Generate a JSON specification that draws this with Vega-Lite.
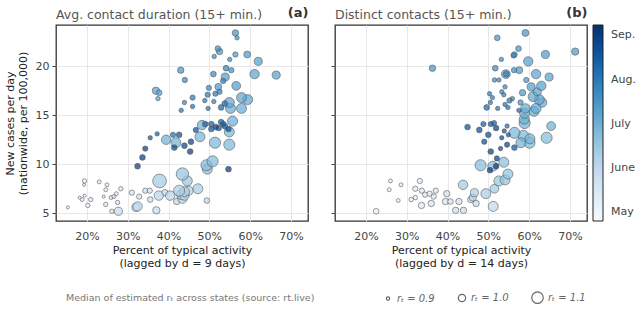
{
  "$schema": "https://vega.github.io/schema/vega-lite/v6.json",
  "padding": {"left": 3, "top": 5, "right": 0, "bottom": 0},
  "background": "white",
  "datasets": {
    "pts": [
      {"panel":"a","act":56.4,"cases":23.4,"rt":0.97,"doy":198},
      {"panel":"a","act":56.8,"cases":22.9,"rt":0.92,"doy":199},
      {"panel":"a","act":52.1,"cases":21.8,"rt":0.95,"doy":200},
      {"panel":"a","act":52.5,"cases":21.5,"rt":0.97,"doy":197},
      {"panel":"a","act":51.2,"cases":21.0,"rt":0.92,"doy":202},
      {"panel":"a","act":55.0,"cases":20.7,"rt":0.92,"doy":203},
      {"panel":"a","act":56.4,"cases":21.2,"rt":0.94,"doy":196},
      {"panel":"a","act":59.3,"cases":21.2,"rt":0.985,"doy":195},
      {"panel":"a","act":62.0,"cases":20.5,"rt":1.015,"doy":193},
      {"panel":"a","act":43.0,"cases":19.6,"rt":0.97,"doy":199},
      {"panel":"a","act":44.0,"cases":18.6,"rt":0.94,"doy":204},
      {"panel":"a","act":51.0,"cases":19.2,"rt":0.95,"doy":205},
      {"panel":"a","act":54.1,"cases":19.8,"rt":0.95,"doy":209},
      {"panel":"a","act":55.4,"cases":19.6,"rt":0.94,"doy":201},
      {"panel":"a","act":53.9,"cases":18.9,"rt":1.015,"doy":194},
      {"panel":"a","act":53.4,"cases":18.5,"rt":0.94,"doy":210},
      {"panel":"a","act":61.1,"cases":19.2,"rt":1.045,"doy":190},
      {"panel":"a","act":66.4,"cases":19.1,"rt":1.015,"doy":192},
      {"panel":"a","act":56.6,"cases":18.0,"rt":1.03,"doy":193},
      {"panel":"a","act":49.9,"cases":17.8,"rt":0.94,"doy":206},
      {"panel":"a","act":52.2,"cases":17.9,"rt":0.985,"doy":196},
      {"panel":"a","act":52.5,"cases":17.4,"rt":0.94,"doy":211},
      {"panel":"a","act":51.5,"cases":17.2,"rt":0.94,"doy":212},
      {"panel":"a","act":49.6,"cases":17.1,"rt":0.94,"doy":213},
      {"panel":"a","act":45.9,"cases":16.8,"rt":0.94,"doy":214},
      {"panel":"a","act":43.9,"cases":16.3,"rt":0.92,"doy":207},
      {"panel":"a","act":48.9,"cases":16.5,"rt":0.92,"doy":215},
      {"panel":"a","act":51.1,"cases":16.4,"rt":0.92,"doy":208},
      {"panel":"a","act":57.9,"cases":16.8,"rt":1.06,"doy":189},
      {"panel":"a","act":59.4,"cases":16.6,"rt":1.06,"doy":188},
      {"panel":"a","act":54.9,"cases":16.3,"rt":1.06,"doy":187},
      {"panel":"a","act":53.8,"cases":16.2,"rt":0.95,"doy":219},
      {"panel":"a","act":52.9,"cases":15.8,"rt":0.95,"doy":222},
      {"panel":"a","act":45.9,"cases":15.9,"rt":0.92,"doy":216},
      {"panel":"a","act":43.1,"cases":15.5,"rt":0.92,"doy":217},
      {"panel":"a","act":49.7,"cases":15.7,"rt":0.92,"doy":218},
      {"panel":"a","act":55.2,"cases":15.7,"rt":1.06,"doy":186},
      {"panel":"a","act":57.9,"cases":15.7,"rt":1.06,"doy":185},
      {"panel":"a","act":55.7,"cases":14.4,"rt":1.06,"doy":184},
      {"panel":"a","act":36.9,"cases":17.5,"rt":1.0,"doy":191},
      {"panel":"a","act":37.7,"cases":17.3,"rt":0.95,"doy":192},
      {"panel":"a","act":37.4,"cases":16.7,"rt":0.92,"doy":193},
      {"panel":"a","act":32.4,"cases":9.8,"rt":0.95,"doy":245},
      {"panel":"a","act":33.6,"cases":10.7,"rt":0.95,"doy":244},
      {"panel":"a","act":34.3,"cases":11.6,"rt":0.94,"doy":243},
      {"panel":"a","act":35.5,"cases":12.7,"rt":0.92,"doy":230},
      {"panel":"a","act":37.2,"cases":13.1,"rt":0.92,"doy":224},
      {"panel":"a","act":39.4,"cases":12.5,"rt":1.045,"doy":182},
      {"panel":"a","act":41.1,"cases":13.0,"rt":0.94,"doy":220},
      {"panel":"a","act":42.6,"cases":13.0,"rt":0.95,"doy":236},
      {"panel":"a","act":41.8,"cases":12.2,"rt":1.06,"doy":181},
      {"panel":"a","act":41.4,"cases":11.7,"rt":0.95,"doy":239},
      {"panel":"a","act":43.9,"cases":11.9,"rt":0.95,"doy":240},
      {"panel":"a","act":45.5,"cases":12.3,"rt":0.95,"doy":241},
      {"panel":"a","act":45.3,"cases":11.3,"rt":0.95,"doy":246},
      {"panel":"a","act":46.7,"cases":13.5,"rt":0.94,"doy":235},
      {"panel":"a","act":47.7,"cases":12.8,"rt":1.06,"doy":180},
      {"panel":"a","act":48.2,"cases":14.0,"rt":1.045,"doy":183},
      {"panel":"a","act":49.0,"cases":14.1,"rt":0.95,"doy":225},
      {"panel":"a","act":50.5,"cases":13.6,"rt":0.95,"doy":232},
      {"panel":"a","act":50.5,"cases":14.1,"rt":0.95,"doy":226},
      {"panel":"a","act":51.6,"cases":13.8,"rt":0.95,"doy":242},
      {"panel":"a","act":52.3,"cases":13.7,"rt":0.95,"doy":231},
      {"panel":"a","act":53.4,"cases":14.1,"rt":0.95,"doy":227},
      {"panel":"a","act":54.7,"cases":13.6,"rt":0.95,"doy":234},
      {"panel":"a","act":52.9,"cases":14.3,"rt":0.95,"doy":228},
      {"panel":"a","act":53.8,"cases":13.9,"rt":0.95,"doy":229},
      {"panel":"a","act":54.9,"cases":13.3,"rt":1.06,"doy":179},
      {"panel":"a","act":51.4,"cases":12.2,"rt":1.09,"doy":178},
      {"panel":"a","act":54.9,"cases":12.0,"rt":1.09,"doy":177},
      {"panel":"a","act":50.8,"cases":10.3,"rt":1.09,"doy":176},
      {"panel":"a","act":49.3,"cases":9.9,"rt":1.09,"doy":175},
      {"panel":"a","act":49.5,"cases":9.5,"rt":1.06,"doy":174},
      {"panel":"a","act":54.7,"cases":9.5,"rt":0.95,"doy":247},
      {"panel":"a","act":15.3,"cases":5.6,"rt":0.89,"doy":125},
      {"panel":"a","act":19.4,"cases":8.3,"rt":0.92,"doy":128},
      {"panel":"a","act":19.3,"cases":7.9,"rt":0.89,"doy":127},
      {"panel":"a","act":23.0,"cases":8.2,"rt":0.91,"doy":130},
      {"panel":"a","act":24.9,"cases":7.9,"rt":0.91,"doy":131},
      {"panel":"a","act":24.6,"cases":7.4,"rt":0.91,"doy":132},
      {"panel":"a","act":28.3,"cases":7.5,"rt":0.92,"doy":135},
      {"panel":"a","act":27.2,"cases":7.0,"rt":0.91,"doy":134},
      {"panel":"a","act":18.2,"cases":6.6,"rt":0.89,"doy":126},
      {"panel":"a","act":19.4,"cases":6.8,"rt":0.89,"doy":129},
      {"panel":"a","act":18.8,"cases":6.4,"rt":0.91,"doy":124},
      {"panel":"a","act":20.9,"cases":6.4,"rt":0.92,"doy":133},
      {"panel":"a","act":20.2,"cases":5.8,"rt":0.92,"doy":123},
      {"panel":"a","act":24.1,"cases":6.7,"rt":0.89,"doy":136},
      {"panel":"a","act":24.6,"cases":5.9,"rt":0.92,"doy":137},
      {"panel":"a","act":25.9,"cases":6.6,"rt":0.91,"doy":138},
      {"panel":"a","act":26.6,"cases":6.7,"rt":0.91,"doy":139},
      {"panel":"a","act":27.5,"cases":6.1,"rt":0.92,"doy":140},
      {"panel":"a","act":26.1,"cases":5.2,"rt":0.92,"doy":141},
      {"panel":"a","act":27.7,"cases":5.2,"rt":1.015,"doy":148},
      {"panel":"a","act":31.0,"cases":7.1,"rt":0.94,"doy":142},
      {"panel":"a","act":32.8,"cases":6.7,"rt":0.94,"doy":143},
      {"panel":"a","act":34.3,"cases":7.3,"rt":0.94,"doy":144},
      {"panel":"a","act":35.4,"cases":7.3,"rt":0.94,"doy":145},
      {"panel":"a","act":32.4,"cases":5.7,"rt":1.045,"doy":152},
      {"panel":"a","act":32.0,"cases":5.6,"rt":1.015,"doy":150},
      {"panel":"a","act":35.5,"cases":6.4,"rt":0.95,"doy":146},
      {"panel":"a","act":37.0,"cases":5.3,"rt":1.0,"doy":149},
      {"panel":"a","act":37.8,"cases":8.3,"rt":1.15,"doy":165},
      {"panel":"a","act":37.6,"cases":6.8,"rt":1.045,"doy":156},
      {"panel":"a","act":39.1,"cases":7.1,"rt":0.97,"doy":147},
      {"panel":"a","act":40.4,"cases":6.8,"rt":1.045,"doy":155},
      {"panel":"a","act":42.0,"cases":6.2,"rt":0.97,"doy":151},
      {"panel":"a","act":43.4,"cases":9.0,"rt":1.12,"doy":170},
      {"panel":"a","act":44.6,"cases":8.3,"rt":1.06,"doy":168},
      {"panel":"a","act":43.2,"cases":6.9,"rt":1.06,"doy":157},
      {"panel":"a","act":42.6,"cases":7.3,"rt":1.09,"doy":162},
      {"panel":"a","act":43.9,"cases":7.2,"rt":1.06,"doy":160},
      {"panel":"a","act":43.4,"cases":6.5,"rt":1.045,"doy":154},
      {"panel":"a","act":47.2,"cases":7.5,"rt":1.06,"doy":163},
      {"panel":"a","act":49.4,"cases":6.3,"rt":0.95,"doy":153},
      {"panel":"a","act":44.9,"cases":7.3,"rt":1.045,"doy":159},
      {"panel":"a","act":43.9,"cases":6.8,"rt":1.045,"doy":158},
      {"panel":"b","act":59.1,"cases":23.4,"rt":0.985,"doy":198},
      {"panel":"b","act":52.2,"cases":22.9,"rt":0.95,"doy":199},
      {"panel":"b","act":57.4,"cases":21.8,"rt":0.95,"doy":200},
      {"panel":"b","act":56.4,"cases":21.2,"rt":0.95,"doy":197},
      {"panel":"b","act":56.2,"cases":21.1,"rt":0.94,"doy":209},
      {"panel":"b","act":53.2,"cases":20.7,"rt":0.92,"doy":202},
      {"panel":"b","act":59.8,"cases":20.5,"rt":1.045,"doy":193},
      {"panel":"b","act":64.0,"cases":21.2,"rt":1.015,"doy":195},
      {"panel":"b","act":71.3,"cases":21.5,"rt":1.0,"doy":196},
      {"panel":"b","act":36.3,"cases":19.8,"rt":0.97,"doy":199},
      {"panel":"b","act":51.7,"cases":19.8,"rt":0.95,"doy":203},
      {"panel":"b","act":54.3,"cases":19.2,"rt":1.03,"doy":194},
      {"panel":"b","act":54.4,"cases":19.2,"rt":0.95,"doy":210},
      {"panel":"b","act":56.3,"cases":19.6,"rt":0.94,"doy":201},
      {"panel":"b","act":57.6,"cases":19.6,"rt":0.985,"doy":196},
      {"panel":"b","act":61.7,"cases":19.2,"rt":1.045,"doy":190},
      {"panel":"b","act":64.9,"cases":18.9,"rt":1.015,"doy":192},
      {"panel":"b","act":51.5,"cases":18.6,"rt":0.92,"doy":204},
      {"panel":"b","act":52.6,"cases":18.6,"rt":0.92,"doy":205},
      {"panel":"b","act":59.3,"cases":18.6,"rt":0.94,"doy":198},
      {"panel":"b","act":54.1,"cases":17.9,"rt":0.92,"doy":206},
      {"panel":"b","act":60.5,"cases":17.9,"rt":1.015,"doy":193},
      {"panel":"b","act":63.0,"cases":18.0,"rt":1.045,"doy":191},
      {"panel":"b","act":53.3,"cases":17.4,"rt":0.92,"doy":207},
      {"panel":"b","act":53.8,"cases":17.1,"rt":0.92,"doy":211},
      {"panel":"b","act":58.4,"cases":17.3,"rt":0.97,"doy":195},
      {"panel":"b","act":62.0,"cases":17.4,"rt":1.015,"doy":189},
      {"panel":"b","act":61.0,"cases":16.9,"rt":1.06,"doy":188},
      {"panel":"b","act":62.5,"cases":16.6,"rt":1.06,"doy":187},
      {"panel":"b","act":50.3,"cases":17.2,"rt":0.92,"doy":212},
      {"panel":"b","act":51.0,"cases":16.8,"rt":0.92,"doy":213},
      {"panel":"b","act":55.9,"cases":16.7,"rt":0.92,"doy":208},
      {"panel":"b","act":55.2,"cases":16.5,"rt":0.94,"doy":214},
      {"panel":"b","act":50.5,"cases":16.3,"rt":0.92,"doy":215},
      {"panel":"b","act":57.9,"cases":16.3,"rt":0.94,"doy":200},
      {"panel":"b","act":54.1,"cases":16.1,"rt":0.92,"doy":216},
      {"panel":"b","act":49.6,"cases":15.8,"rt":0.95,"doy":223},
      {"panel":"b","act":52.3,"cases":15.7,"rt":0.92,"doy":217},
      {"panel":"b","act":54.8,"cases":15.8,"rt":0.92,"doy":218},
      {"panel":"b","act":59.1,"cases":15.7,"rt":1.045,"doy":186},
      {"panel":"b","act":61.7,"cases":15.7,"rt":1.06,"doy":185},
      {"panel":"b","act":63.2,"cases":16.3,"rt":1.045,"doy":186},
      {"panel":"b","act":57.5,"cases":15.5,"rt":0.92,"doy":219},
      {"panel":"b","act":58.8,"cases":14.6,"rt":1.06,"doy":184},
      {"panel":"b","act":44.9,"cases":13.8,"rt":0.95,"doy":235},
      {"panel":"b","act":47.8,"cases":13.5,"rt":0.95,"doy":236},
      {"panel":"b","act":48.8,"cases":14.1,"rt":0.94,"doy":229},
      {"panel":"b","act":50.6,"cases":14.1,"rt":0.94,"doy":230},
      {"panel":"b","act":51.4,"cases":14.2,"rt":0.94,"doy":228},
      {"panel":"b","act":51.9,"cases":13.7,"rt":0.95,"doy":242},
      {"panel":"b","act":50.0,"cases":13.0,"rt":0.95,"doy":237},
      {"panel":"b","act":49.0,"cases":12.3,"rt":0.94,"doy":239},
      {"panel":"b","act":53.9,"cases":13.4,"rt":0.92,"doy":233},
      {"panel":"b","act":54.6,"cases":13.9,"rt":0.92,"doy":220},
      {"panel":"b","act":54.9,"cases":13.0,"rt":0.92,"doy":234},
      {"panel":"b","act":53.3,"cases":12.7,"rt":0.92,"doy":238},
      {"panel":"b","act":54.6,"cases":12.0,"rt":0.94,"doy":240},
      {"panel":"b","act":53.0,"cases":11.6,"rt":0.92,"doy":241},
      {"panel":"b","act":50.6,"cases":11.3,"rt":0.95,"doy":243},
      {"panel":"b","act":56.4,"cases":11.7,"rt":0.95,"doy":232},
      {"panel":"b","act":52.1,"cases":10.6,"rt":0.94,"doy":244},
      {"panel":"b","act":51.9,"cases":9.8,"rt":0.95,"doy":246},
      {"panel":"b","act":50.4,"cases":9.4,"rt":0.95,"doy":245},
      {"panel":"b","act":56.4,"cases":13.2,"rt":1.09,"doy":179},
      {"panel":"b","act":58.9,"cases":14.2,"rt":1.09,"doy":183},
      {"panel":"b","act":58.6,"cases":12.9,"rt":1.09,"doy":178},
      {"panel":"b","act":60.1,"cases":12.2,"rt":1.09,"doy":177},
      {"panel":"b","act":60.2,"cases":12.6,"rt":1.06,"doy":180},
      {"panel":"b","act":58.0,"cases":12.2,"rt":1.06,"doy":181},
      {"panel":"b","act":65.4,"cases":13.9,"rt":1.03,"doy":182},
      {"panel":"b","act":64.3,"cases":12.7,"rt":1.09,"doy":176},
      {"panel":"b","act":58.9,"cases":15.2,"rt":1.06,"doy":185},
      {"panel":"b","act":61.2,"cases":15.4,"rt":1.06,"doy":184},
      {"panel":"b","act":48.1,"cases":9.9,"rt":1.09,"doy":175},
      {"panel":"b","act":51.1,"cases":9.8,"rt":1.06,"doy":174},
      {"panel":"b","act":53.8,"cases":10.2,"rt":1.06,"doy":173},
      {"panel":"b","act":54.8,"cases":9.0,"rt":1.06,"doy":171},
      {"panel":"b","act":52.6,"cases":8.3,"rt":1.06,"doy":169},
      {"panel":"b","act":54.1,"cases":8.4,"rt":1.06,"doy":170},
      {"panel":"b","act":51.5,"cases":7.5,"rt":1.03,"doy":166},
      {"panel":"b","act":49.4,"cases":7.0,"rt":1.06,"doy":163},
      {"panel":"b","act":43.8,"cases":7.9,"rt":1.045,"doy":165},
      {"panel":"b","act":22.5,"cases":5.2,"rt":0.95,"doy":125},
      {"panel":"b","act":26.0,"cases":8.3,"rt":0.91,"doy":128},
      {"panel":"b","act":25.7,"cases":7.4,"rt":0.91,"doy":127},
      {"panel":"b","act":28.6,"cases":7.9,"rt":0.91,"doy":130},
      {"panel":"b","act":27.9,"cases":6.3,"rt":0.91,"doy":124},
      {"panel":"b","act":33.2,"cases":8.3,"rt":0.94,"doy":131},
      {"panel":"b","act":32.1,"cases":7.5,"rt":0.94,"doy":132},
      {"panel":"b","act":33.7,"cases":7.3,"rt":0.94,"doy":134},
      {"panel":"b","act":31.1,"cases":6.4,"rt":0.92,"doy":126},
      {"panel":"b","act":32.1,"cases":6.6,"rt":0.92,"doy":129},
      {"panel":"b","act":34.5,"cases":6.9,"rt":0.94,"doy":135},
      {"panel":"b","act":35.6,"cases":7.0,"rt":0.94,"doy":136},
      {"panel":"b","act":36.6,"cases":6.7,"rt":0.94,"doy":137},
      {"panel":"b","act":37.1,"cases":7.3,"rt":0.94,"doy":138},
      {"panel":"b","act":33.6,"cases":5.8,"rt":0.97,"doy":133},
      {"panel":"b","act":36.0,"cases":6.0,"rt":0.97,"doy":139},
      {"panel":"b","act":39.8,"cases":7.0,"rt":0.97,"doy":142},
      {"panel":"b","act":39.5,"cases":6.2,"rt":0.97,"doy":140},
      {"panel":"b","act":40.7,"cases":6.2,"rt":0.95,"doy":141},
      {"panel":"b","act":42.8,"cases":6.2,"rt":0.97,"doy":144},
      {"panel":"b","act":42.0,"cases":5.3,"rt":0.97,"doy":146},
      {"panel":"b","act":43.9,"cases":5.3,"rt":0.97,"doy":147},
      {"panel":"b","act":45.7,"cases":6.4,"rt":0.97,"doy":145},
      {"panel":"b","act":46.6,"cases":7.1,"rt":1.015,"doy":160},
      {"panel":"b","act":47.0,"cases":6.0,"rt":0.97,"doy":148},
      {"panel":"b","act":46.2,"cases":6.6,"rt":1.0,"doy":158},
      {"panel":"b","act":51.2,"cases":5.7,"rt":1.06,"doy":152}
    ]
  },
  "data": {"name": "pts"},
  "hconcat": [
    {
      "width": 252,
      "height": 196,
      "title": {"text": "Avg. contact duration (15+ min.)", "anchor": "start", "frame": "group", "offset": -15, "fontSize": 12.5, "fontWeight": "normal", "color": "#555555", "font": "DejaVu Sans"},
      "transform": [{"filter": "datum.panel == 'a'"}],
      "layer": [
        {
          "mark": {"type": "point", "filled": true, "fillOpacity": 0.72, "stroke": "#555555", "strokeWidth": 0.9, "strokeOpacity": 0.65},
          "encoding": {
            "x": {"field": "act", "type": "quantitative", "scale": {"domain": [12.4, 74.2], "nice": false, "zero": false},
                  "axis": {"values": [20, 30, 40, 50, 60, 70], "labelExpr": "datum.value + '%'", "ticks": false, "labelPadding": 9, "title": ["Percent of typical activity", "(lagged by d = 9 days)"], "titlePadding": 3}},
            "y": {"field": "cases", "type": "quantitative", "scale": {"domain": [4.21, 24.21], "nice": false, "zero": false},
                  "axis": {"values": [5, 10, 15, 20], "tickSize": 4, "labelPadding": 3, "title": ["New cases per day", "(nationwide, per 100,000)"], "titlePadding": 7}},
            "color": {"field": "doy", "type": "quantitative", "scale": {"domain": [116, 133, 150, 167, 184, 201, 218, 235, 252], "range": ["#f7fbff", "#deebf7", "#c6dbef", "#9ecae1", "#6baed6", "#4292c6", "#2171b5", "#08519c", "#08306b"], "interpolate": "rgb"},
                      "legend": {"type": "gradient", "title": null, "orient": "none", "legendX": 537, "legendY": 0, "direction": "vertical", "values": [122, 153, 183, 214, 245], "labelExpr": "datum.value < 140 ? 'May' : datum.value < 170 ? 'June' : datum.value < 200 ? 'July' : datum.value < 230 ? 'Aug.' : 'Sep.'", "gradientLength": 196, "gradientThickness": 10, "gradientStrokeColor": "#222222", "gradientStrokeWidth": 1, "labelOffset": 8, "labelFontSize": 11, "labelColor": "#444444", "labelFont": "DejaVu Sans"}},
            "size": {"field": "rt", "type": "quantitative", "scale": {"domain": [0.82, 0.9, 1.0, 1.1, 1.2], "range": [0, 11, 54, 132, 245], "zero": false},
                     "legend": {"title": "Median of estimated rₜ across states (source: rt.live)", "orient": "none", "legendX": 10, "legendY": 266, "direction": "horizontal", "titleOrient": "left", "titlePadding": 68, "titleLimit": 500, "titleFontWeight": "normal", "titleFontSize": 9.5, "titleColor": "#777777", "titleFont": "DejaVu Sans", "values": [0.9, 1.0, 1.1], "labelExpr": "'rₜ = ' + format(datum.value, '.1f')", "labelFontStyle": "italic", "labelFontSize": 10, "labelColor": "#666666", "labelFont": "DejaVu Sans", "columnPadding": 20, "symbolType": "circle", "symbolFillColor": "#ffffff", "symbolStrokeColor": "#666666", "symbolStrokeWidth": 1.2, "symbolOpacity": 1,
                                "encode": {"symbols": {"update": {"fill": {"value": "#ffffff"}, "stroke": {"value": "#666666"}, "strokeWidth": {"value": 1.2}, "opacity": {"value": 1}, "fillOpacity": {"value": 1}}}}}},
            "order": {"field": "doy", "type": "quantitative"}
          }
        },
        {
          "mark": {"type": "point", "opacity": 0},
          "encoding": {
            "x": {"field": "act", "type": "quantitative", "axis": {"orient": "top", "labels": false, "ticks": false, "grid": false, "domain": false, "title": "(a)", "titleAnchor": "end", "titleFontWeight": "bold", "titleFontSize": 13, "titleColor": "#333333", "titlePadding": 6}}
          }
        }
      ],
      "resolve": {"axis": {"x": "independent"}}
    },
    {
      "width": 252,
      "height": 196,
      "title": {"text": "Distinct contacts (15+ min.)", "anchor": "start", "frame": "group", "offset": -15, "fontSize": 12.5, "fontWeight": "normal", "color": "#555555", "font": "DejaVu Sans"},
      "transform": [{"filter": "datum.panel == 'b'"}],
      "layer": [
        {
          "mark": {"type": "point", "filled": true, "fillOpacity": 0.72, "stroke": "#555555", "strokeWidth": 0.9, "strokeOpacity": 0.65},
          "encoding": {
            "x": {"field": "act", "type": "quantitative", "scale": {"domain": [12.4, 74.2], "nice": false, "zero": false},
                  "axis": {"values": [20, 30, 40, 50, 60, 70], "labelExpr": "datum.value + '%'", "ticks": false, "labelPadding": 9, "title": ["Percent of typical activity", "(lagged by d = 14 days)"], "titlePadding": 3}},
            "y": {"field": "cases", "type": "quantitative", "scale": {"domain": [4.21, 24.21], "nice": false, "zero": false},
                  "axis": {"values": [5, 10, 15, 20], "tickSize": 4, "labels": false, "title": null}},
            "color": {"field": "doy", "type": "quantitative"},
            "size": {"field": "rt", "type": "quantitative"},
            "order": {"field": "doy", "type": "quantitative"}
          }
        },
        {
          "mark": {"type": "point", "opacity": 0},
          "encoding": {
            "x": {"field": "act", "type": "quantitative", "axis": {"orient": "top", "labels": false, "ticks": false, "grid": false, "domain": false, "title": "(b)", "titleAnchor": "end", "titleFontWeight": "bold", "titleFontSize": 13, "titleColor": "#333333", "titlePadding": 6}}
          }
        }
      ],
      "resolve": {"axis": {"x": "independent"}}
    }
  ],
  "spacing": 20,
  "config": {
    "font": "DejaVu Sans",
    "view": {"stroke": "#333333", "strokeWidth": 1.3},
    "axis": {"labelFont": "DejaVu Sans", "labelFontSize": 11, "labelColor": "#444444", "titleFont": "DejaVu Sans", "titleFontSize": 11, "titleFontWeight": "normal", "titleColor": "#222222", "gridColor": "#e8e8e8", "gridWidth": 1, "domain": false, "tickColor": "#444444"}
  }
}
